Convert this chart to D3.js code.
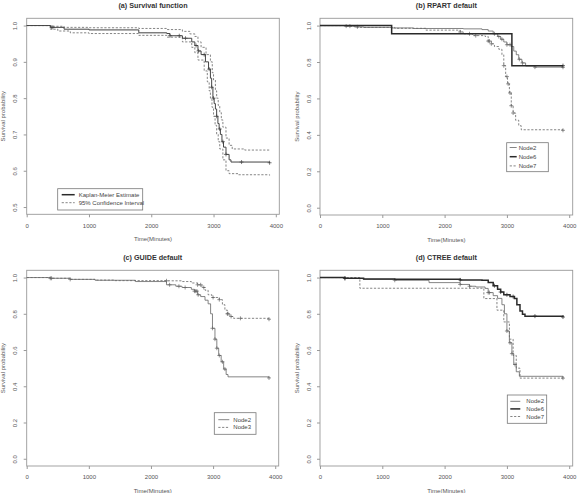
<!DOCTYPE html>
<html>
<head>
<meta charset="utf-8">
<script src="https://cdn.jsdelivr.net/npm/d3@7"></script>
<style>
body { margin: 0; background: #fff; }
svg { display: block; font-family: "Liberation Sans", Arial, sans-serif; }
</style>
</head>
<body>
<svg id="chart" width="580" height="493"></svg>
<script>
// tick values
var xTicks = [0, 1000, 2000, 3000, 4000];
var yTicksA = [0.5, 0.6, 0.7, 0.8, 0.9, 1.0];
var yTicksB = [0, 0.2, 0.4, 0.6, 0.8, 1.0];

// (a) Kaplan-Meier estimate and 95% CI, [time, survival]
var aKM = [[0,1],[380,0.995],[600,0.99],[1000,0.988],[1800,0.98],[2250,0.978],[2300,0.972],[2500,0.965],[2650,0.955],[2700,0.945],[2750,0.93],[2800,0.92],[2870,0.9],[2920,0.88],[2950,0.855],[2970,0.83],[2990,0.8],[3010,0.785],[3030,0.77],[3050,0.75],[3070,0.73],[3090,0.715],[3110,0.7],[3135,0.68],[3160,0.665],[3200,0.645],[3250,0.63],[3280,0.624],[3900,0.622]];
var aUpper = [[0,1],[380,0.998],[600,0.995],[1000,0.994],[1800,0.992],[2250,0.989],[2500,0.984],[2620,0.977],[2700,0.97],[2750,0.955],[2800,0.94],[2880,0.92],[2950,0.9],[2980,0.87],[3000,0.85],[3030,0.82],[3050,0.8],[3075,0.78],[3100,0.76],[3125,0.74],[3150,0.72],[3200,0.69],[3250,0.67],[3300,0.66],[3500,0.657],[3900,0.656]];
var aLower = [[0,1],[380,0.99],[500,0.985],[700,0.98],[1000,0.978],[1800,0.973],[2250,0.968],[2500,0.955],[2650,0.94],[2700,0.925],[2750,0.905],[2850,0.875],[2900,0.845],[2930,0.82],[2950,0.8],[2975,0.775],[3000,0.75],[3025,0.725],[3050,0.7],[3075,0.68],[3100,0.66],[3150,0.63],[3200,0.6],[3250,0.592],[3400,0.589],[3900,0.587]];
var aCensor = [400, 420, 2300, 2450, 2550, 2720, 2760, 2850, 2930, 2970, 3000, 3050, 3100, 3150, 3200, 3450, 3900];

// (b) RPART
var bNode2 = [[0,1],[400,0.997],[550,0.993],[700,0.99],[1150,0.987],[1500,0.984],[2300,0.982],[2600,0.978],[2700,0.97],[2780,0.955],[2850,0.94],[2900,0.925],[2950,0.91],[3000,0.895],[3070,0.885],[3110,0.86],[3150,0.84],[3190,0.815],[3240,0.795],[3300,0.778],[3450,0.772],[3900,0.771]];
var bNode6 = [[0,1],[1150,0.955],[3080,0.78],[3900,0.78]];
var bNode7 = [[0,1],[400,0.997],[600,0.99],[1200,0.985],[1700,0.975],[2250,0.965],[2300,0.955],[2450,0.945],[2650,0.94],[2700,0.915],[2750,0.9],[2800,0.885],[2870,0.87],[2920,0.84],[2950,0.78],[2980,0.72],[3010,0.68],[3040,0.63],[3070,0.56],[3100,0.52],[3140,0.48],[3190,0.45],[3230,0.428],[3900,0.425]];
var bCensor2 = [420, 480, 600, 2800, 2870, 2920, 3000, 3050, 3200, 3250, 3450, 3900];
var bCensor6 = [3900];
var bCensor7 = [2250, 2400, 2500, 2700, 2720, 2750, 2950, 3000, 3020, 3050, 3070, 3100, 3900];

// (c) GUIDE
var cNode2 = [[0,1],[380,0.996],[700,0.99],[1100,0.985],[1750,0.978],[2250,0.96],[2400,0.952],[2500,0.945],[2650,0.935],[2700,0.925],[2750,0.905],[2800,0.895],[2870,0.875],[2920,0.855],[2960,0.8],[2990,0.72],[3030,0.66],[3060,0.61],[3090,0.57],[3130,0.535],[3170,0.495],[3210,0.465],[3240,0.452],[3900,0.446]];
var cNode3 = [[0,1],[380,0.996],[700,0.99],[1100,0.986],[1400,0.983],[2250,0.982],[2500,0.978],[2650,0.97],[2750,0.96],[2820,0.945],[2870,0.93],[2920,0.905],[2980,0.89],[3100,0.878],[3150,0.85],[3190,0.82],[3230,0.8],[3270,0.785],[3330,0.775],[3900,0.77]];
var cCensor2 = [380, 700, 2300, 2450, 2550, 2700, 2720, 2740, 2760, 2990, 3030, 3060, 3100, 3150, 3190, 3900];
var cCensor3 = [400, 2250, 2750, 2800, 2850, 3000, 3100, 3230, 3240, 3290, 3440, 3900];

// (d) CTREE
var dNode2 = [[0,1],[400,0.995],[700,0.99],[1200,0.985],[1750,0.972],[2250,0.962],[2400,0.952],[2500,0.948],[2650,0.94],[2700,0.917],[2780,0.9],[2850,0.885],[2920,0.85],[2960,0.8],[3000,0.705],[3040,0.64],[3080,0.58],[3110,0.52],[3150,0.48],[3200,0.455],[3900,0.445]];
var dNode6 = [[0,1],[400,0.996],[700,0.992],[1200,0.99],[2250,0.987],[2600,0.985],[2700,0.972],[2780,0.955],[2850,0.935],[2900,0.92],[2950,0.905],[3050,0.895],[3120,0.885],[3160,0.85],[3210,0.815],[3250,0.797],[3290,0.787],[3900,0.782]];
var dNode7 = [[0,1],[640,0.941],[2630,0.884],[2840,0.82],[2950,0.755],[3040,0.66],[3100,0.57],[3150,0.5],[3210,0.445],[3900,0.445]];
var dCensor2 = [400, 1200, 2250, 2400, 2700, 2720, 3000, 3050, 3080, 3130, 3900];
var dCensor6 = [400, 2250, 2800, 2900, 3000, 3100, 3450, 3900];

var svg = d3.select("#chart");
var thin = {color: "#666", width: 0.8, dash: null};
var thick = {color: "#2a2a2a", width: 1.5, dash: null};
var dashed = {color: "#666", width: 0.8, dash: "2.2,1.6"};

// value of a step curve at time t
function stepAt(series, t) {
	var v = series[0][1];
	series.forEach(function(p) { if (p[0] <= t) v = p[1]; });
	return v;
}

var drawPanel = function(p) {
	var g = svg.append("g");
	var x = d3.scaleLinear().domain([0, 4056]).range([p.left, p.right]);
	var y = d3.scaleLinear().domain(p.ydom).range([p.bottom, p.top]);

	// x axis
	var xa = g.append("g")
		.attr("transform", "translate(0," + p.bottom + ")")
		.call(d3.axisBottom(x).tickValues(xTicks).tickSize(3).tickPadding(6).tickFormat(d3.format("d")));
	xa.select(".domain").remove();
	xa.selectAll("line").attr("stroke", "#999");
	xa.selectAll("text").attr("fill", "#555").style("font-size", "6px");

	// y axis, labels parallel to axis
	var ya = g.append("g")
		.attr("transform", "translate(" + p.left + ",0)")
		.call(d3.axisLeft(y).tickValues(p.yticks).tickSize(3).tickFormat(d3.format(".1f")));
	ya.select(".domain").remove();
	ya.selectAll("line").attr("stroke", "#999");
	ya.selectAll("text")
		.attr("fill", "#555").style("font-size", "6px")
		.attr("x", 0).attr("y", -9.5).attr("dy", null)
		.attr("transform", "rotate(-90)")
		.style("text-anchor", "middle");

	// box
	g.append("rect")
		.attr("x", p.left).attr("y", p.top)
		.attr("width", p.right - p.left).attr("height", p.bottom - p.top)
		.attr("fill", "none").attr("stroke", "#999").attr("stroke-width", 0.9);

	// title and labels
	g.append("text")
		.attr("x", (p.left + p.right) / 2).attr("y", p.top - 10)
		.style("text-anchor", "middle").style("font-size", "7.2px").style("font-weight", "bold")
		.attr("fill", "#333")
		.text(p.title);
	g.append("text")
		.attr("x", (p.left + p.right) / 2).attr("y", p.bottom + 26.5)
		.style("text-anchor", "middle").style("font-size", "6px").attr("fill", "#555")
		.text("Time(Minutes)");
	g.append("text")
		.attr("transform", "translate(" + (p.left - 21.5) + "," + ((p.top + p.bottom) / 2) + ") rotate(-90)")
		.style("text-anchor", "middle").style("font-size", "6px").attr("fill", "#555")
		.text("Survival probability");

	// curves
	var line = d3.line()
		.x(function(d) { return x(d[0]); })
		.y(function(d) { return y(d[1]); })
		.curve(d3.curveStepAfter);

	p.series.forEach(function(s) {
		g.append("path")
			.datum(s.data)
			.attr("d", line)
			.attr("fill", "none")
			.attr("stroke", s.style.color)
			.attr("stroke-width", s.style.width)
			.attr("stroke-dasharray", s.style.dash);
		if (s.censor) {
			g.selectAll(null)
				.data(s.censor)
				.enter()
				.append("path")
				.attr("transform", function(t) {
					return "translate(" + x(t) + "," + y(stepAt(s.data, t)) + ")";
				})
				.attr("d", "M-2,0H2M0,-2V2")
				.attr("stroke", s.style.color)
				.attr("stroke-width", 0.7);
		}
	});

	// legend
	var L = p.legend;
	g.append("rect")
		.attr("x", L.x).attr("y", L.y).attr("width", L.w).attr("height", L.h)
		.attr("fill", "#fff").attr("stroke", "#777").attr("stroke-width", 0.8);
	L.items.forEach(function(it, i) {
		var yy = L.y + L.first + i * L.step;
		g.append("line")
			.attr("x1", L.x + L.l1).attr("x2", L.x + L.l2)
			.attr("y1", yy).attr("y2", yy)
			.attr("stroke", it.style.color).attr("stroke-width", it.style.width)
			.attr("stroke-dasharray", it.style.dash);
		g.append("text")
			.attr("x", L.x + L.tx).attr("y", yy + 2)
			.style("font-size", "6px").attr("fill", "#444")
			.text(it.label);
	});
};

drawPanel({
	title: "(a) Survival function", left: 26.7, right: 279.3, top: 18.3, bottom: 214.3,
	ydom: [0.48, 1.02], yticks: yTicksA,
	series: [
		{data: aUpper, style: dashed},
		{data: aLower, style: dashed},
		{data: aKM, style: {color: "#444", width: 1, dash: null}, censor: aCensor}
	],
	legend: {x: 57.7, y: 188.7, w: 85, h: 21.3, first: 6, step: 8, l1: 4, l2: 17, tx: 21,
		items: [{label: "Kaplan-Meier Estimate", style: thick}, {label: "95% Confidence Interval", style: dashed}]}
});

drawPanel({
	title: "(b) RPART default", left: 320, right: 572.7, top: 18.3, bottom: 215,
	ydom: [-0.04, 1.04], yticks: yTicksB,
	series: [
		{data: bNode2, style: thin, censor: bCensor2},
		{data: bNode7, style: dashed, censor: bCensor7},
		{data: bNode6, style: thick, censor: bCensor6}
	],
	legend: {x: 506.7, y: 142.7, w: 41.6, h: 29, first: 4.8, step: 9.2, l1: 3, l2: 10, tx: 12,
		items: [{label: "Node2", style: thin}, {label: "Node6", style: thick}, {label: "Node7", style: dashed}]}
});

drawPanel({
	title: "(c) GUIDE default", left: 26.7, right: 278.7, top: 270.3, bottom: 466,
	ydom: [-0.04, 1.04], yticks: yTicksB,
	series: [
		{data: cNode3, style: dashed, censor: cCensor3},
		{data: cNode2, style: thin, censor: cCensor2}
	],
	legend: {x: 214.3, y: 412.7, w: 41.7, h: 21.6, first: 7, step: 7.7, l1: 4, l2: 15, tx: 19,
		items: [{label: "Node2", style: thin}, {label: "Node3", style: dashed}]}
});

drawPanel({
	title: "(d) CTREE default", left: 320, right: 572.7, top: 270.3, bottom: 466,
	ydom: [-0.04, 1.04], yticks: yTicksB,
	series: [
		{data: dNode7, style: dashed},
		{data: dNode2, style: thin, censor: dCensor2},
		{data: dNode6, style: thick, censor: dCensor6}
	],
	legend: {x: 507.3, y: 395, w: 39.4, h: 28.3, first: 6.3, step: 7.6, l1: 3, l2: 13, tx: 19,
		items: [{label: "Node2", style: thin}, {label: "Node6", style: thick}, {label: "Node7", style: dashed}]}
});
</script>
</body>
</html>
